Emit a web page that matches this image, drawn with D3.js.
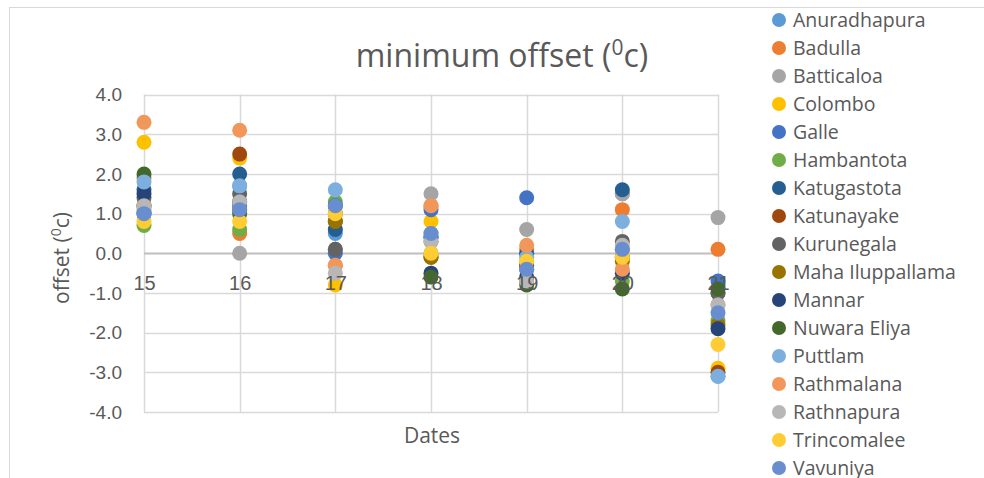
<!DOCTYPE html>
<html><head><meta charset="utf-8">
<script src="https://cdn.jsdelivr.net/npm/d3@7/dist/d3.min.js"></script>
<style>
body{margin:0;background:#fff;}
svg{display:block;font-family:"Open Sans",Lato,sans-serif;}
</style></head>
<body><svg id="c" width="984" height="478"></svg>
<script>
const dates = [15, 16, 17, 18, 19, 20, 21];
const yTicks = [-4, -3, -2, -1, 0, 1, 2, 3, 4];
const stations = ["Anuradhapura","Badulla","Batticaloa","Colombo","Galle","Hambantota","Katugastota","Katunayake","Kurunegala","Maha Iluppallama","Mannar","Nuwara Eliya","Puttlam","Rathmalana","Rathnapura","Trincomalee","Vavuniya"];
const colors = ["#5B9BD5","#ED7D31","#A5A5A5","#FFC000","#4472C4","#70AD47","#255E91","#9E480E","#636363","#997300","#264478","#43682B","#7CAFDD","#F1975A","#B7B7B7","#FFCD33","#698ED0"];
// offsets per station, for dates 15..21
const anuradhapura   = [1.0, 1.7, 0.5, 0.4, 0.0, 1.5, -3.1];
const badulla        = [1.9, 0.5, -0.3, 1.2, 0.1, 1.1, 0.1];
const batticaloa     = [1.1, 0.0, 0.1, 1.5, 0.6, 1.5, 0.9];
const colombo        = [2.8, 2.4, -0.8, 0.8, -0.2, -0.1, -2.9];
const galle          = [1.0, 1.2, 0.0, 1.1, 1.4, 0.1, -0.7];
const hambantota     = [0.7, 0.6, 1.3, 0.0, -0.3, -0.7, -1.7];
const katugastota    = [1.6, 2.0, 0.6, 0.4, 0.0, 1.6, -1.0];
const katunayake     = [1.2, 2.5, 0.8, -0.1, -0.3, -0.1, -3.0];
const kurunegala     = [1.4, 1.5, 0.1, 0.3, -0.4, 0.3, -1.0];
const mahaIluppallama= [1.2, 1.1, 0.8, -0.1, -0.7, -0.2, -1.8];
const mannar         = [1.5, 1.3, 1.2, -0.5, -0.6, -0.5, -1.9];
const nuwaraEliya    = [2.0, 1.0, 1.0, -0.6, -0.8, -0.9, -0.9];
const puttlam        = [1.8, 1.7, 1.6, 0.5, -0.1, 0.8, -3.1];
const rathmalana     = [3.3, 3.1, -0.3, 1.2, 0.2, -0.4, -1.3];
const rathnapura     = [1.2, 1.3, -0.5, 0.3, -0.7, 0.2, -1.3];
const trincomalee    = [0.8, 0.8, 1.0, 0.0, -0.2, -0.1, -2.3];
const vavuniya       = [1.0, 1.1, 1.2, 0.5, -0.4, 0.1, -1.5];
const values = [anuradhapura,badulla,batticaloa,colombo,galle,hambantota,katugastota,katunayake,kurunegala,mahaIluppallama,mannar,nuwaraEliya,puttlam,rathmalana,rathnapura,trincomalee,vavuniya];

const svg = d3.select("#c");
const txt = "#595959";
// chart border
svg.append("rect").attr("x",9.5).attr("y",7.5).attr("width",1000).attr("height",500)
  .attr("fill","none").attr("stroke","#d9d9d9").attr("stroke-width",1);

const x = d3.scaleLinear().domain([15,21]).range([144,718]);
const y = d3.scaleLinear().domain([-4,4]).range([412,94.6]);

// gridlines
svg.append("g").selectAll("line").data(dates).join("line")
  .attr("x1",d=>Math.round(x(d))+0.5).attr("x2",d=>Math.round(x(d))+0.5)
  .attr("y1",y(4)).attr("y2",y(-4)).attr("stroke","#d9d9d9").attr("stroke-width",1.5);
svg.append("g").selectAll("line").data(yTicks).join("line")
  .attr("x1",x(15)).attr("x2",x(21))
  .attr("y1",d=>Math.round(y(d))+0.5).attr("y2",d=>Math.round(y(d))+0.5)
  .attr("stroke",d=>d===0?"#bfbfbf":"#d9d9d9").attr("stroke-width",d=>d===0?2:1.5);

// y axis labels
const fmt = d => d3.format(".1f")(d).replace("\u2212","-");
const ya = svg.append("g").attr("transform",`translate(${x(15)},0)`)
  .call(d3.axisLeft(y).tickValues(yTicks).tickFormat(fmt).tickSize(0).tickPadding(22));
ya.select(".domain").remove();
ya.selectAll("text").attr("fill",txt).style("font-size","19px").style("font-family","inherit");

// points
stations.forEach((s,i)=>{
  svg.append("g").selectAll("circle").data(values[i]).join("circle")
    .attr("cx",(d,j)=>x(dates[j])).attr("cy",d=>y(d)).attr("r",7.5)
    .attr("fill",colors[i]);
});

// x axis labels at zero crossing (drawn above the points)
const xa = svg.append("g").attr("transform",`translate(0,${y(0)})`)
  .call(d3.axisBottom(x).tickValues(dates).tickFormat(d3.format("d")).tickSize(0).tickPadding(23));
xa.select(".domain").remove();
xa.selectAll("text").attr("fill",txt).style("font-size","20px").style("font-family","inherit");

// title
const t = svg.append("text").attr("x",502).attr("y",67).attr("text-anchor","middle")
  .attr("fill",txt).style("font-size","32px");
t.append("tspan").text("minimum offset (");
t.append("tspan").text("0").attr("dy",-12).style("font-size","21px");
t.append("tspan").text("c)").attr("dy",12);

// axis titles
const yt = svg.append("text").attr("transform","translate(69,258) rotate(-90)").attr("text-anchor","middle")
  .attr("fill",txt).style("font-size","21px");
yt.append("tspan").text("offset (");
yt.append("tspan").text("0").attr("dy",-8).style("font-size","14px");
yt.append("tspan").text("c)").attr("dy",8);
svg.append("text").attr("x",432).attr("y",443).attr("text-anchor","middle")
  .attr("fill",txt).style("font-size","21px").text("Dates");

// legend
const lg = svg.append("g").selectAll("g").data(stations).join("g")
  .attr("transform",(d,i)=>`translate(779,${20+i*28})`);
lg.append("circle").attr("r",7).attr("fill",(d,i)=>colors[i]);
lg.append("text").attr("x",14).attr("dy","0.35em").attr("fill",txt).style("font-size","19.5px").text(d=>d);
</script></body></html>
